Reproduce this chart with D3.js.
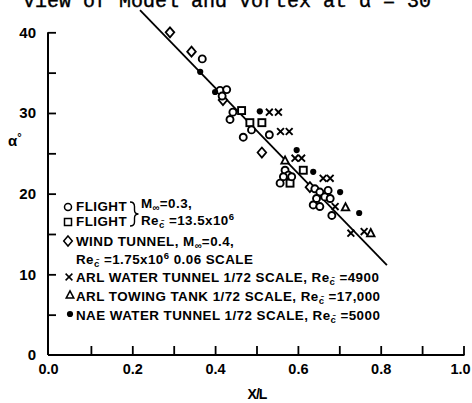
<!DOCTYPE html>
<html><head><meta charset="utf-8">
<script src="https://cdn.jsdelivr.net/npm/d3@7"></script>
<style>
html,body{margin:0;padding:0;background:#fff;}
svg{display:block;}
</style></head><body>
<svg id="chart" width="472" height="403"></svg>
<script>
// Vortex burst position X/L versus angle of attack, by test facility.
// Each point is [X/L, alpha in degrees].
const flightCircles = [
  [0.369,36.7],[0.412,32.8],[0.428,32.9],[0.417,32.1],[0.443,30.1],[0.436,29.2],
  [0.468,27.0],[0.488,27.9],[0.531,27.3],[0.569,22.9],[0.577,22.3],[0.565,22.1],
  [0.585,22.1],[0.557,21.3],[0.641,20.6],[0.653,20.2],[0.673,20.4],[0.665,19.6],
  [0.645,19.4],[0.678,19.4],[0.637,18.6],[0.653,18.4],[0.682,17.3]
];
const flightSquares = [
  [0.464,30.3],[0.484,28.8],[0.513,28.8],[0.613,22.9],[0.581,21.3]
];
const windTunnel = [
  [0.291,40.0],[0.343,37.6],[0.419,31.6],[0.513,25.1],[0.629,20.8]
];
const arlWaterTunnel = [
  [0.531,30.1],[0.553,30.1],[0.558,27.7],[0.579,27.7],[0.593,24.4],[0.609,24.4],
  [0.661,21.9],[0.678,21.9],[0.690,18.4],[0.728,15.1],[0.760,15.3]
];
const arlTowingTank = [
  [0.569,24.1],[0.715,18.3],[0.776,15.1]
];
const naeWaterTunnel = [
  [0.364,35.1],[0.400,32.6],[0.508,30.2],[0.597,25.4],[0.637,22.7],[0.702,20.2],[0.748,17.6]
];
// Fitted trend line end points
const fitX = [0.2186, 0.815];
const fitAlpha = [42.75, 11.15];

// Axis ticks
const xTicks = [0,0.1,0.2,0.3,0.4,0.5,0.6,0.7,0.8,0.9,1.0];
const xTickLabels = ["0.0","","0.2","","0.4","","0.6","","0.8","","1.0"];
const yTicks = [0,5,10,15,20,25,30,35,40];
const yTickLabels = ["0","","10","","20","","30","","40"];

const svg = d3.select("#chart");
const x = d3.scaleLinear().domain([0,1]).range([49.5,463.5]);
const y = d3.scaleLinear().domain([0,40]).range([355,32.3]);

const labelFont = "'Liberation Sans', Arial, Helvetica, sans-serif";

// Title line (runs off the top edge)
svg.append("text")
  .attr("x",23).attr("y",7)
  .attr("font-family","'Liberation Mono','Courier New',monospace")
  .attr("font-size",20)
  .attr("fill","#000").attr("stroke","#000").attr("stroke-width",0.4)
  .text("View of Model and Vortex at α = 30");

// X axis: ticks pointing into the plot
const xAxis = d3.axisBottom(x)
  .tickValues(xTicks)
  .tickFormat((d,i)=>xTickLabels[i])
  .tickSizeInner(-9).tickSizeOuter(0).tickPadding(9);
const gx = svg.append("g").attr("transform",`translate(0,${y(0)})`).call(xAxis);
gx.select(".domain").attr("stroke","#000").attr("stroke-width",2)
  .attr("d",`M${x(0)-1.5},0H${x(1)+1}`);
gx.selectAll(".tick line").attr("stroke","#000").attr("stroke-width",1.8);
gx.selectAll(".tick text").attr("font-family",labelFont).attr("font-weight","bold")
  .attr("font-size",14.5).attr("fill","#000");
gx.selectAll(".tick").filter(d=>d===0).select("line").remove();
gx.selectAll(".tick").filter(d=>d===0).select("text").attr("dx",-1.5);
gx.selectAll(".tick").filter(d=>d===1).select("text").attr("dx",-3.5);

// Y axis
const yAxis = d3.axisLeft(y)
  .tickValues(yTicks)
  .tickFormat((d,i)=>yTickLabels[i])
  .tickSizeInner(-8).tickSizeOuter(0).tickPadding(12);
const gy = svg.append("g").attr("transform",`translate(${x(0)-1.5},0)`).call(yAxis);
gy.select(".domain").attr("stroke","#000").attr("stroke-width",2)
  .attr("d",`M0,${y(0)}V${y(40)}`);
gy.selectAll(".tick line").attr("stroke","#000").attr("stroke-width",1.8);
gy.selectAll(".tick text").attr("font-family",labelFont).attr("font-weight","bold")
  .attr("font-size",15).attr("fill","#000");
gy.selectAll(".tick").filter(d=>d===0).select("line").remove();

// Axis titles
svg.append("text").attr("x",257).attr("y",399).attr("text-anchor","middle")
  .attr("font-family",labelFont).attr("font-weight","bold").attr("font-size",14)
  .attr("letter-spacing",-1).text("X/L");
const at = svg.append("text").attr("x",8).attr("y",146)
  .attr("font-family",labelFont).attr("font-weight","bold").attr("font-size",15);
at.append("tspan").text("α");
at.append("tspan").attr("font-size",11).attr("dy",-5).text("°");

// Trend line
svg.append("line")
  .attr("x1",x(fitX[0])).attr("y1",y(fitAlpha[0]))
  .attr("x2",x(fitX[1])).attr("y2",y(fitAlpha[1]))
  .attr("stroke","#000").attr("stroke-width",1.8);

// Marker drawers
const markers = {
  circle: (g)=>g.append("circle").attr("r",3.5).attr("fill","#fff").attr("stroke","#000").attr("stroke-width",1.9),
  square: (g)=>g.append("rect").attr("x",-3.5).attr("y",-3.5).attr("width",7).attr("height",7)
                 .attr("fill","#fff").attr("stroke","#000").attr("stroke-width",1.9),
  diamond: (g)=>g.append("path").attr("d","M0,-5L4.3,0L0,5L-4.3,0Z")
                 .attr("fill","#fff").attr("stroke","#000").attr("stroke-width",1.8),
  cross: (g)=>g.append("path").attr("d","M-3.4,-3.4L3.4,3.4M-3.4,3.4L3.4,-3.4")
                 .attr("fill","none").attr("stroke","#000").attr("stroke-width",1.9),
  triangle: (g)=>g.append("path").attr("d","M0,-4.2L3.8,3.1L-3.8,3.1Z")
                 .attr("fill","#fff").attr("stroke","#000").attr("stroke-width",1.8),
  dot: (g)=>g.append("circle").attr("r",3.1).attr("fill","#000")
};

const series = [
  {data: windTunnel, shape: "diamond"},
  {data: flightSquares, shape: "square"},
  {data: flightCircles, shape: "circle"},
  {data: arlWaterTunnel, shape: "cross"},
  {data: arlTowingTank, shape: "triangle"},
  {data: naeWaterTunnel, shape: "dot"}
];

series.forEach(s=>{
  svg.append("g").selectAll("g").data(s.data).join("g")
    .attr("transform",d=>`translate(${x(d[0])},${y(d[1])})`)
    .each(function(){ markers[s.shape](d3.select(this)); });
});

// Legend
const legend = svg.append("g").attr("font-family",labelFont).attr("font-weight","bold")
  .attr("font-size",13.4).attr("letter-spacing",0.45).attr("fill","#000");

function legendText(xp, yp, parts){
  const t = legend.append("text").attr("x",xp).attr("y",yp);
  let shift = 0;
  parts.forEach(p=>{
    const sp = t.append("tspan").text(p.t);
    let want = 0;
    if (p.sub) { sp.attr("font-size",9.5); want = 3; }
    if (p.sup) { sp.attr("font-size",9.5); want = -5; }
    if (want !== shift) { sp.attr("dy", want - shift); shift = want; }
  });
}

const legendSymbols = [
  {shape:"circle", x:68, y:207},
  {shape:"square", x:68, y:222},
  {shape:"diamond", x:68, y:241},
  {shape:"cross", x:69, y:277},
  {shape:"triangle", x:70, y:295},
  {shape:"dot", x:70, y:314}
];
legendSymbols.forEach(s=>{
  const g = legend.append("g").attr("transform",`translate(${s.x},${s.y})`);
  markers[s.shape](g);
});
legend.selectAll("circle, rect, path").filter(function(){return d3.select(this).attr("fill")!=="#000";})
  .attr("stroke-width",1.5);

legendText(76,211,[{t:"FLIGHT"}]);
legendText(76,226,[{t:"FLIGHT"}]);
legend.append("path")
  .attr("d","M130,202Q134.5,202 134.5,206.5L134.5,210Q134.5,214 138.5,214Q134.5,214 134.5,218L134.5,222Q134.5,226 130,226")
  .attr("fill","none").attr("stroke","#000").attr("stroke-width",1.4);
legendText(141,208,[{t:"M"},{t:"∞",sub:true},{t:"=0.3,"}]);
legendText(141,225,[{t:"Re"},{t:"c̄",sub:true},{t:" =13.5x10"},{t:"6",sup:true}]);
legendText(76,246,[{t:"WIND TUNNEL, M"},{t:"∞",sub:true},{t:"=0.4,"}]);
legendText(76,264,[{t:"Re"},{t:"c̄",sub:true},{t:" =1.75x10"},{t:"6",sup:true},{t:" 0.06 SCALE"}]);
legendText(76,282,[{t:"ARL WATER TUNNEL 1/72 SCALE, Re"},{t:"c̄",sub:true},{t:" =4900"}]);
legendText(76,301,[{t:"ARL TOWING TANK 1/72 SCALE, Re"},{t:"c̄",sub:true},{t:" =17,000"}]);
legendText(76,320,[{t:"NAE WATER TUNNEL 1/72 SCALE, Re"},{t:"c̄",sub:true},{t:" =5000"}]);
</script>
</body></html>
